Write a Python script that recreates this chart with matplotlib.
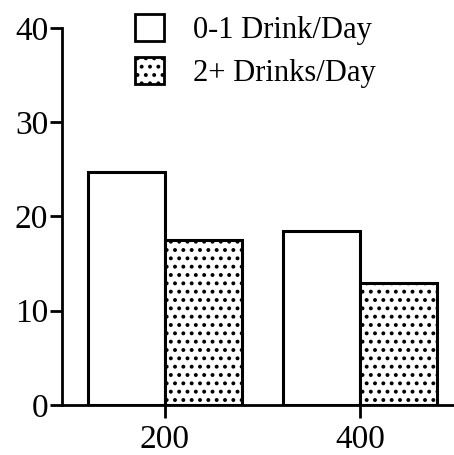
import numpy as np
import matplotlib.pyplot as plt
from matplotlib.patches import Patch

doses = [200, 400]
lowDrink = [24.7, 18.5]
highDrink = [17.5, 12.9]
labels = ['0-1 Drink/Day', '2+ Drinks/Day']

plt.rcParams['font.family'] = ['Liberation Serif', 'DejaVu Serif']
plt.rcParams['hatch.linewidth'] = 1.6

fig = plt.figure(figsize=(4.54, 4.55), dpi=100)
ax = fig.add_axes([0.1366, 0.11, 0.8634, 0.8285])

width = 79
x = np.array(doses, dtype=float)
ax.bar(x - width / 2, lowDrink, width, color='white', edgecolor='black', linewidth=2.2)
ax.bar(x + width / 2, highDrink, width, color='white', edgecolor='black', linewidth=2.2, hatch='..')

ax.set_xlim(94.4, 496.4)
ax.set_ylim(0, 40)
ax.set_xticks(doses)
ax.set_yticks([0, 10, 20, 30, 40])

for side in ['top', 'right']:
  ax.spines[side].set_visible(False)
for side in ['left', 'bottom']:
  ax.spines[side].set_linewidth(2)
ax.tick_params(axis='both', direction='out', length=9, width=2, labelsize=24, pad=1)
ax.tick_params(axis='x', pad=5)

handles = [Patch(facecolor='white', edgecolor='black', linewidth=2),
           Patch(facecolor='white', edgecolor='black', linewidth=2, hatch='..')]
fig.legend(handles, labels, loc='upper left', bbox_to_anchor=(0.283, 0.982), frameon=False,
           fontsize=22, handlelength=0.95, handleheight=0.95, handletextpad=0.95,
           labelspacing=0.4, borderpad=0.2, borderaxespad=0)

fig.savefig('out.png', dpi=100)
